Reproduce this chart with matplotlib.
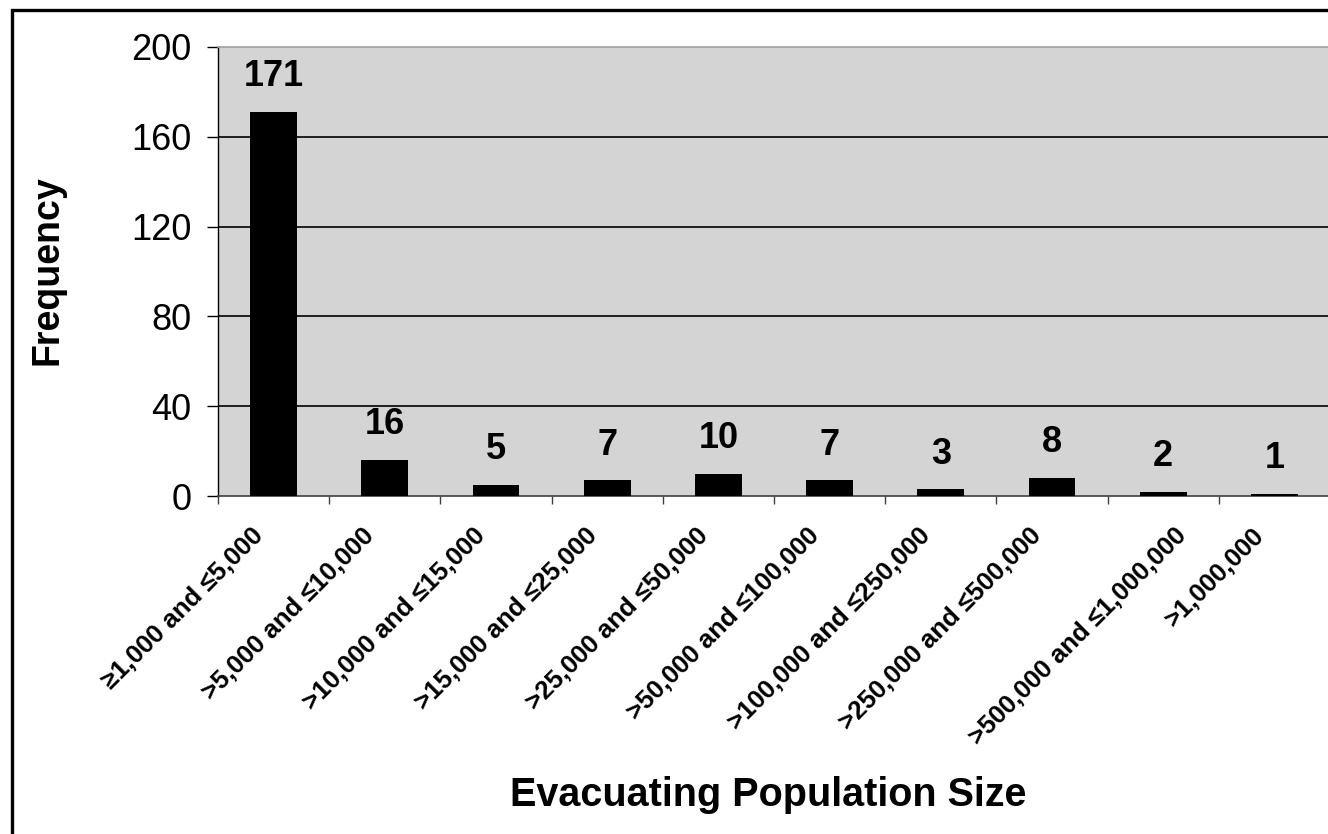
import matplotlib
matplotlib.use("Agg")
import matplotlib.pyplot as plt
import matplotlib.transforms as mtransforms
from matplotlib.patches import Rectangle
import numpy as np

plt.rcParams['font.family'] = ['Liberation Sans', 'DejaVu Sans']

categories = [
    "\u22651,000 and \u22645,000",
    ">5,000 and \u226410,000",
    ">10,000 and \u226415,000",
    ">15,000 and \u226425,000",
    ">25,000 and \u226450,000",
    ">50,000 and \u2264100,000",
    ">100,000 and \u2264250,000",
    ">250,000 and \u2264500,000",
    ">500,000 and \u22641,000,000",
    ">1,000,000",
]
frequency = [171, 16, 5, 7, 10, 7, 3, 8, 2, 1]
y_ticks = [0, 40, 80, 120, 160, 200]

W, H = 1328, 834
fig = plt.figure(figsize=(W / 100, H / 100), dpi=100)
fig.patch.set_facecolor("white")

# outer frame of the chart
fig.add_artist(Rectangle((12 / W, -0.05), 1.2, 1 - 10 / H + 0.05,
                         transform=fig.transFigure, fill=False,
                         edgecolor="black", linewidth=2.4, zorder=0))

left, right, top, bottom = 218, 1330, 47, 496
ax = fig.add_axes([left / W, 1 - bottom / H, (right - left) / W, (bottom - top) / H])
ax.set_facecolor("#d4d4d4")

x = np.arange(len(categories))
ax.bar(x, frequency, width=0.42, color="black", zorder=3)

for xi, v in zip(x, frequency):
    ax.annotate(str(v), (xi, v), xytext=(0, 18.5), textcoords="offset points",
                ha="center", va="baseline", fontsize=26, fontweight="bold",
                zorder=4)

ax.set_xlim(-0.5, len(categories) - 0.5)
ax.set_ylim(0, 200)
ax.set_yticks(y_ticks)
ax.set_yticklabels([str(t) for t in y_ticks], fontsize=26)
ax.tick_params(axis="y", length=8, width=1, direction="out", pad=11, colors="black")

for t in y_ticks[1:-1]:
    ax.axhline(t, color="black", linewidth=1.2, zorder=2)

# category ticks at the boundaries, labels at the centres
ax.set_xticks(np.arange(len(categories) + 1) - 0.5)
ax.set_xticklabels([])
ax.tick_params(axis="x", length=6, width=1, direction="out", color="#404040")
ax.set_xticks(x, minor=True)
ax.set_xticklabels(categories, minor=True, rotation=45, ha="right", va="center",
                   rotation_mode="anchor", fontsize=18.5, fontweight="bold")
ax.tick_params(axis="x", which="minor", length=0, pad=26)

shift = mtransforms.ScaledTranslation(-0.14, 0, fig.dpi_scale_trans)
for i, lbl in enumerate(ax.get_xticklabels(minor=True)):
    # the longest label sits slightly to the right
    dx = 0.34 if i == 8 else 0.0
    lbl.set_transform(lbl.get_transform() + shift
                      + mtransforms.ScaledTranslation(dx, 0, fig.dpi_scale_trans))

ax.spines["right"].set_visible(False)
ax.spines["top"].set_color("#a0a0a0")
ax.spines["top"].set_linewidth(1.2)
ax.spines["left"].set_color("black")
ax.spines["left"].set_linewidth(1)
ax.spines["bottom"].set_color("#404040")
ax.spines["bottom"].set_linewidth(1.2)

fig.text(47 / W, 1 - 270 / H, "Frequency", rotation=90, ha="center", va="center",
         fontsize=27, fontweight="bold")
fig.text(768 / W, 1 - 795 / H, "Evacuating Population Size", ha="center", va="center",
         fontsize=28.5, fontweight="bold")

fig.savefig("out.png", dpi=100)
